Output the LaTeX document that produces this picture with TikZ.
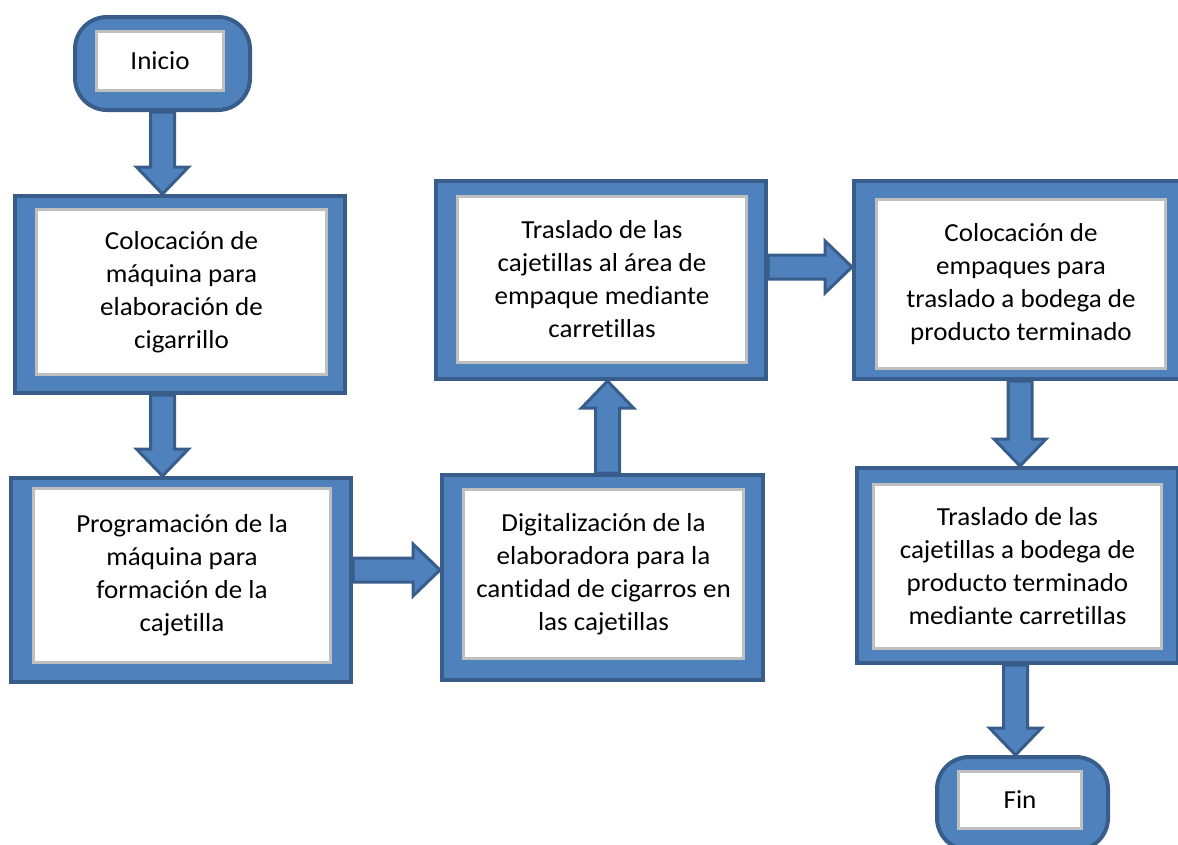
\documentclass[tikz,border=0pt]{standalone}
\usepackage{fontspec}
\setmainfont{Carlito}[FakeStretch=1.04, Ligatures=NoCommon]
\usepackage{tikz}
\usetikzlibrary{positioning,calc}

\definecolor{azul}{HTML}{4F81BD}
\definecolor{azuloscuro}{HTML}{385D8A}
\definecolor{gris}{HTML}{BFBFBF}

\tikzset{
	marco/.style={rectangle, draw=azuloscuro, fill=azul, line width=4pt, inner sep=0pt},
	texto/.style={rectangle, draw=gris, fill=white, line width=3pt, inner sep=0pt, align=center,
		font=\fontsize{26}{33}\selectfont},
	flecha/.style={draw=azuloscuro, fill=azul, line width=3pt, line join=miter}
}

% block arrow from #1 to #2
\newcommand{\flecha}[2]{%
	\coordinate (fl-a) at (#1);
	\coordinate (fl-b) at (#2);
	\coordinate (fl-m) at ($(fl-b)!27pt!(fl-a)$);
	\filldraw[flecha] ($(fl-a)!12pt!90:(fl-b)$) -- ($(fl-m)!12pt!90:(fl-b)$) -- ($(fl-m)!26pt!90:(fl-b)$)
		-- (fl-b) -- ($(fl-m)!26pt!-90:(fl-b)$) -- ($(fl-m)!12pt!-90:(fl-b)$) -- ($(fl-a)!12pt!-90:(fl-b)$) -- cycle;}

\begin{document}
\begin{tikzpicture}[x=1pt, y=-1pt]
	\useasboundingbox (0,0) rectangle (1178,844);
	\clip (0,0) rectangle (1178,844);

	\node[marco, rounded corners=32pt, minimum width=175pt, minimum height=93pt] (inicio) at (162.5,63.5) {};
	\node[texto, minimum width=127pt, minimum height=59pt] (inicio-t) at (160,61) {Inicio};

	\node[marco, minimum width=330pt, minimum height=197pt] (paso1) at (180,294.5) {};
	\node[texto, minimum width=290pt, minimum height=165pt] (paso1-t) at (181.5,292) {Colocación de\\máquina para\\elaboración de\\cigarrillo};

	\node[marco, minimum width=340pt, minimum height=204pt] (paso2) at (181,580) {};
	\node[texto, minimum width=297pt, minimum height=174pt] (paso2-t) at (182,575.5) {Programación de la\\máquina para\\formación de la\\cajetilla};

	\node[marco, minimum width=321pt, minimum height=205pt] (paso3) at (602.5,577.5) {};
	\node[texto, minimum width=280pt, minimum height=169pt] (paso3-t) at (603.5,574) {Digitalización de la\\elaboradora para la\\cantidad de cigarros en\\las cajetillas};

	\node[marco, minimum width=330pt, minimum height=198pt] (paso4) at (601,280) {};
	\node[texto, minimum width=289pt, minimum height=166pt] (paso4-t) at (602,279.5) {Traslado de las\\cajetillas al área de\\empaque mediante\\carretillas};

	\node[marco, minimum width=332pt, minimum height=198pt] (paso5) at (1020,280) {};
	\node[texto, minimum width=289pt, minimum height=169pt] (paso5-t) at (1021,284) {Colocación de\\empaques para\\traslado a bodega de\\producto terminado};

	\node[marco, minimum width=321pt, minimum height=195pt] (paso6) at (1017.5,565.5) {};
	\node[texto, minimum width=288pt, minimum height=164pt] (paso6-t) at (1017.5,566.5) {Traslado de las\\cajetillas a bodega de\\producto terminado\\mediante carretillas};

	\node[marco, rounded corners=32pt, minimum width=171pt, minimum height=93pt] (fin) at (1022.5,803.5) {};
	\node[texto, minimum width=123pt, minimum height=57pt] (fin-t) at (1020,800) {Fin};

	\coordinate (s3) at ([yshift=10pt]paso2.east);
	\coordinate (s4) at ([xshift=5pt]paso3.north);
	\coordinate (s5) at ([yshift=13pt]paso4.east);
	\coordinate (s7) at ([xshift=-2pt]paso6.south);

	\flecha{inicio.south}{inicio.south |- paso1.north}
	\flecha{inicio.south |- paso1.south}{inicio.south |- paso2.north}
	\flecha{s3}{s3 -| paso3.west}
	\flecha{s4}{s4 |- paso4.south}
	\flecha{s5}{s5 -| paso5.west}
	\flecha{paso5.south}{paso5.south |- paso6.north}
	\flecha{s7}{s7 |- fin.north}
\end{tikzpicture}
\end{document}
